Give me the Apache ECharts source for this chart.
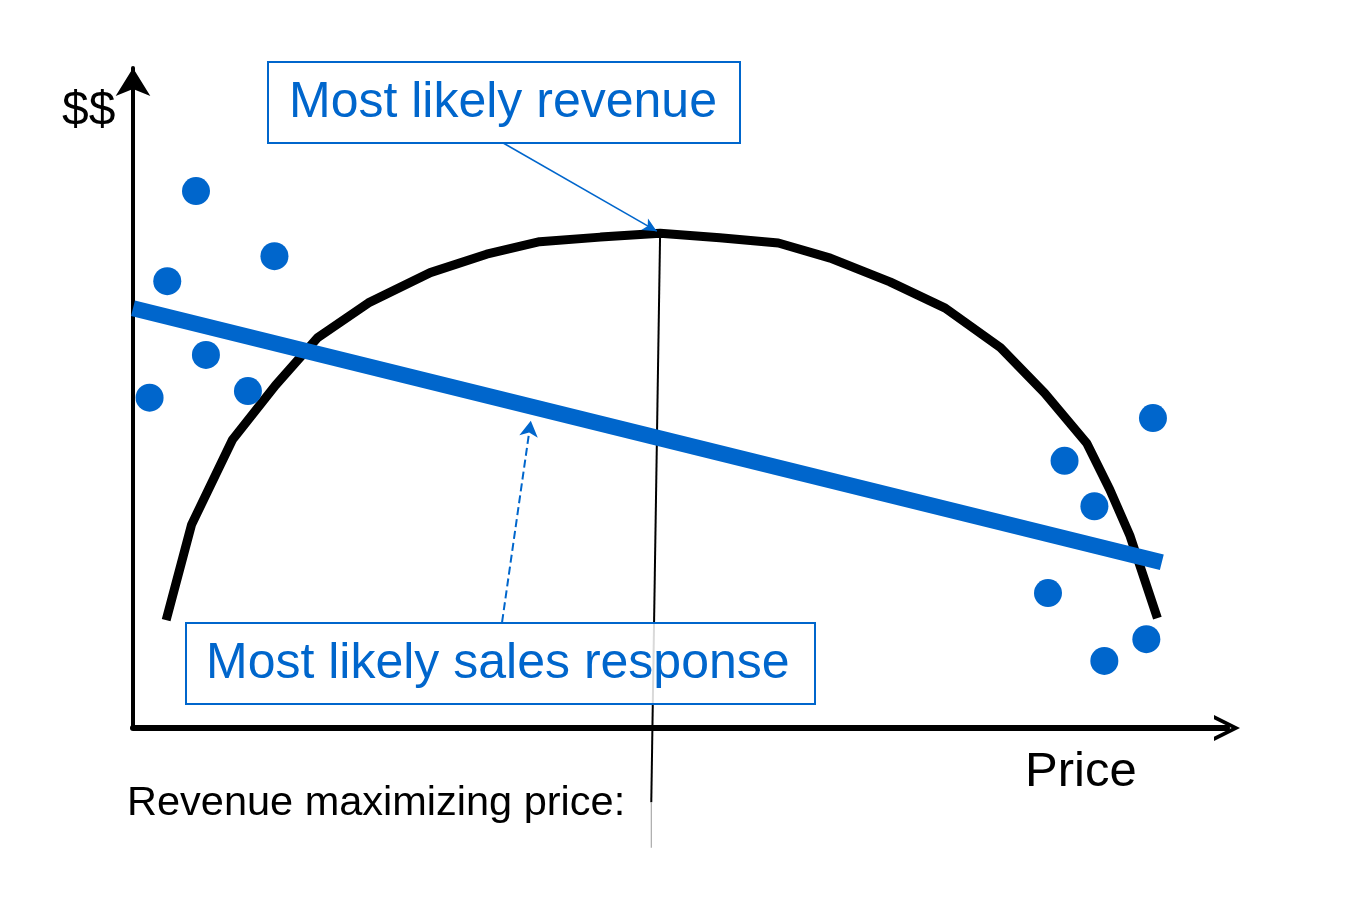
<!DOCTYPE html>
<html>
<head>
<meta charset="utf-8">
<title>Revenue maximizing price</title>
<script src="https://cdn.jsdelivr.net/npm/echarts@6/dist/echarts.min.js"></script>
<style>
  html, body { margin: 0; padding: 0; background: #fff; }
  #chart { width: 1345px; height: 916px; }
</style>
</head>
<body>
<div id="chart"></div>
<script>
// revenue curve (price, $$)
var curveX = [3.0, 5.3, 9.0, 12.9, 16.7, 21.3, 26.9, 32.0, 36.8, 42.3, 47.7, 53.1, 58.4, 63.1, 68.5, 73.5, 78.5, 82.5, 86.3, 88.4, 90.2, 92.7];
var curveY = [16.4, 30.9, 43.8, 52.1, 59.3, 64.6, 69.2, 72.0, 73.9, 74.6, 75.2, 74.5, 73.7, 71.4, 67.8, 63.8, 57.8, 50.9, 43.3, 36.2, 29.3, 16.7];

// observed points
var dotX = [5.7, 3.1, 12.8, 6.6, 1.5, 10.4, 92.3, 84.3, 87.0, 82.8, 91.7, 87.9];
var dotY = [81.6, 67.9, 71.7, 56.7, 50.2, 51.2, 47.1, 40.6, 33.7, 20.5, 13.5, 10.2];

// most likely sales response (straight line)
var salesX = [0, 93.1];
var salesY = [63.8, 25.2];

// revenue maximizing price marker
var peakX = [47.7, 46.9, 46.9];
var peakY = [75.2, -11.3, -18.2];

var BLUE = '#0066CC';
var FONT = '"Liberation Sans", Arial, sans-serif';

function pairs(xs, ys) {
  return xs.map(function (x, i) { return [x, ys[i]]; });
}

var myChart = echarts.init(document.getElementById('chart'));

var option = {
  animation: false,
  grid: { left: 133, right: 118, top: 68, bottom: 188 },
  xAxis: {
    type: 'value', min: 0, max: 99,
    axisLine: {
      show: true,
      symbol: ['none', 'path://M0,10 L5,0 L10,10 L8.4,10 L5,3.2 L1.6,10 Z'],
      symbolSize: [28, 26],
      lineStyle: { color: '#000', width: 6 }
    },
    axisTick: { show: false },
    axisLabel: { show: false },
    splitLine: { show: false }
  },
  yAxis: {
    type: 'value', min: 0, max: 100.3,
    axisLine: {
      show: true,
      symbol: ['none', 'arrow'],
      symbolSize: [26, 28],
      lineStyle: { color: '#000', width: 4 }
    },
    axisTick: { show: false },
    axisLabel: { show: false },
    splitLine: { show: false }
  },
  series: [
    {
      name: 'revenue',
      type: 'line',
      data: pairs(curveX, curveY),
      symbol: 'none',
      lineStyle: { color: '#000', width: 9 },
      z: 2,
      markLine: {
        silent: true,
        symbol: ['none', 'arrow'],
        symbolSize: [10, 14],
        label: { show: false },
        lineStyle: { color: BLUE, width: 1.5, type: 'solid' },
        data: [[{ coord: [33.5, 88.9] }, { coord: [47.4, 75.5] }]]
      }
    },
    {
      name: 'peak',
      type: 'line',
      data: pairs(peakX.slice(0, 2), peakY.slice(0, 2)),
      symbol: 'none',
      clip: false,
      lineStyle: { color: '#000', width: 2 },
      z: 3
    },
    {
      name: 'peakTail',
      type: 'line',
      data: pairs(peakX.slice(1), peakY.slice(1)),
      symbol: 'none',
      clip: false,
      lineStyle: { color: '#999', width: 1 },
      z: 3
    },
    {
      name: 'sales',
      type: 'line',
      data: pairs(salesX, salesY),
      symbol: 'none',
      lineStyle: { color: BLUE, width: 16, cap: 'butt' },
      z: 4,
      markLine: {
        silent: true,
        symbol: ['none', 'arrow'],
        symbolSize: [14, 16],
        label: { show: false },
        lineStyle: { color: BLUE, width: 2, type: 'dashed' },
        data: [[{ coord: [33.4, 16.1] }, { coord: [36.0, 46.7] }]]
      }
    },
    {
      name: 'points',
      type: 'scatter',
      data: pairs(dotX, dotY),
      symbol: 'circle',
      symbolSize: 28,
      itemStyle: { color: BLUE, opacity: 1 },
      z: 5
    }
  ],
  graphic: [
    { type: 'rect', z: 10, shape: { x: 268, y: 62, width: 472, height: 81 },
      style: { fill: 'rgba(255,255,255,0.85)', stroke: BLUE, lineWidth: 2 } },
    { type: 'text', z: 11, x: 289, y: 103,
      style: { text: 'Most likely revenue', font: '50px ' + FONT, fill: BLUE, verticalAlign: 'middle' } },
    { type: 'rect', z: 10, shape: { x: 186, y: 623, width: 629, height: 81 },
      style: { fill: 'rgba(255,255,255,0.85)', stroke: BLUE, lineWidth: 2 } },
    { type: 'text', z: 11, x: 206, y: 664,
      style: { text: 'Most likely sales response', font: '50px ' + FONT, fill: BLUE, verticalAlign: 'middle' } },
    { type: 'text', z: 11, x: 62, y: 112,
      style: { text: '$$', font: '48px ' + FONT, fill: '#000', verticalAlign: 'middle' } },
    { type: 'text', z: 11, x: 1025, y: 772,
      style: { text: 'Price', font: '49px ' + FONT, fill: '#000', verticalAlign: 'middle' } },
    { type: 'text', z: 11, x: 127, y: 804,
      style: { text: 'Revenue maximizing price:', font: '41.5px ' + FONT, fill: '#000', verticalAlign: 'middle' } }
  ]
};

myChart.setOption(option);
window.addEventListener('resize', function () {
  myChart.resize();
});
</script>
</body>
</html>
